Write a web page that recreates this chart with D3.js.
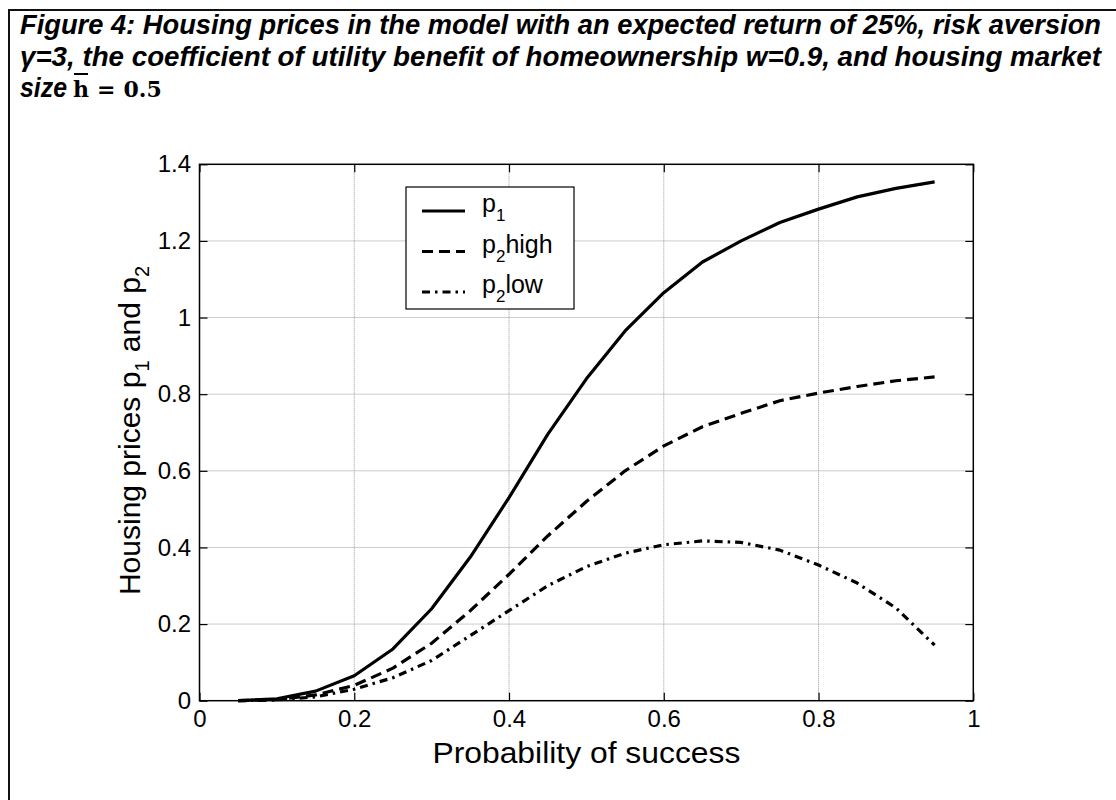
<!DOCTYPE html>
<html>
<head>
<meta charset="utf-8">
<script src="https://cdn.jsdelivr.net/npm/d3@7"></script>
<style>
  body { margin: 0; background: #fff; }
  svg { display: block; }
</style>
</head>
<body>
<svg id="chart" width="1116" height="800"></svg>
<script>
// Probability of success on the horizontal axis
const successProb = [0.05, 0.10, 0.15, 0.20, 0.25, 0.30, 0.35, 0.40, 0.45, 0.50,
                     0.55, 0.60, 0.65, 0.70, 0.75, 0.80, 0.85, 0.90, 0.95];
// Period-1 price
const p1 = [0.000, 0.005, 0.025, 0.065, 0.135, 0.240, 0.375, 0.530, 0.695, 0.840,
            0.965, 1.065, 1.145, 1.200, 1.248, 1.283, 1.315, 1.337, 1.354];
// Period-2 price, high state
const p2High = [0.000, 0.003, 0.015, 0.040, 0.085, 0.150, 0.235, 0.330, 0.430, 0.520,
                0.600, 0.665, 0.715, 0.750, 0.783, 0.803, 0.820, 0.835, 0.845];
// Period-2 price, low state
const p2Low = [0.000, 0.002, 0.010, 0.030, 0.060, 0.105, 0.170, 0.235, 0.300, 0.350,
               0.385, 0.407, 0.417, 0.413, 0.393, 0.354, 0.307, 0.242, 0.145];

const xTicks = [0, 0.2, 0.4, 0.6, 0.8, 1];
const xTickLabels = ["0", "0.2", "0.4", "0.6", "0.8", "1"];
const yTicks = [0, 0.2, 0.4, 0.6, 0.8, 1, 1.2, 1.4];
const yTickLabels = ["0", "0.2", "0.4", "0.6", "0.8", "1", "1.2", "1.4"];

const titleLines = [
  "Figure 4: Housing prices in the model with an expected return of 25%, risk aversion",
  "γ=3, the coefficient of utility benefit of homeownership w=0.9, and housing market"
];

const svg = d3.select("#chart");
const axisFont = "'Liberation Sans', Arial, Helvetica, sans-serif";
const tickSize = 24, legendSize = 25, labelSize = 30;

// Figure frame (runs off the right and bottom edges)
svg.append("rect")
  .attr("x", 9).attr("y", 10)
  .attr("width", 1120).attr("height", 800)
  .attr("fill", "none").attr("stroke", "#111").attr("stroke-width", 2);

// Caption
const title = svg.append("g")
  .attr("font-family", axisFont)
  .attr("font-weight", "bold")
  .attr("font-style", "italic")
  .attr("font-size", 27)
  .attr("fill", "#000");
titleLines.forEach((t, i) => {
  title.append("text")
    .attr("x", 20).attr("y", 34 + i * 32)
    .attr("textLength", 1081)
    .attr("lengthAdjust", "spacingAndGlyphs")
    .text(t);
});
title.append("text")
  .attr("x", 20).attr("y", 97)
  .attr("textLength", 47)
  .attr("lengthAdjust", "spacingAndGlyphs")
  .text("size");
const mathText = svg.append("text")
  .attr("x", 73).attr("y", 97)
  .attr("font-family", "'DejaVu Serif', 'Liberation Serif', serif")
  .attr("font-weight", "bold")
  .attr("font-size", 22)
  .attr("fill", "#000");
mathText.append("tspan").text("h");
mathText.append("tspan").attr("dx", 8).text("=");
mathText.append("tspan").attr("dx", 8).text("0.5");
// bar over h
svg.append("line")
  .attr("x1", 74).attr("x2", 88)
  .attr("y1", 74).attr("y2", 74)
  .attr("stroke", "#000").attr("stroke-width", 2);

// Plot area
const plotLeft = 199.5, plotRight = 973.3, plotTop = 164.3, plotBottom = 700.7;
const x = d3.scaleLinear().domain([0, 1]).range([plotLeft, plotRight]);
const y = d3.scaleLinear().domain([0, 1.4]).range([plotBottom, plotTop]);

const plot = svg.append("g");

// Dotted grid
const grid = plot.append("g").attr("class", "grid");
grid.selectAll("line.gx").data(xTicks.slice(1, -1)).join("line")
  .attr("class", "gx")
  .attr("x1", d => x(d)).attr("x2", d => x(d))
  .attr("y1", plotTop).attr("y2", plotBottom);
grid.selectAll("line.gy").data(yTicks.slice(1, -1)).join("line")
  .attr("class", "gy")
  .attr("y1", d => y(d)).attr("y2", d => y(d))
  .attr("x1", plotLeft).attr("x2", plotRight);
grid.selectAll("line")
  .attr("stroke", "#9a9a9a").attr("stroke-width", 1)
  .attr("stroke-dasharray", "1,1");

// Axes with inward ticks on all four sides
function styleAxis(g) {
  g.select(".domain").remove();
  g.selectAll(".tick line").attr("stroke", "#000").attr("stroke-width", 1.2);
  g.selectAll(".tick text")
    .attr("font-family", axisFont).attr("font-size", tickSize).attr("fill", "#000");
}
const xi = v => xTickLabels[xTicks.indexOf(v)];
const yi = v => yTickLabels[yTicks.indexOf(v)];

plot.append("g")
  .attr("transform", `translate(0,${plotBottom})`)
  .call(d3.axisBottom(x).tickValues(xTicks).tickFormat(xi).tickSizeInner(-8).tickSizeOuter(0).tickPadding(9))
  .call(styleAxis);
plot.append("g")
  .attr("transform", `translate(0,${plotTop})`)
  .call(d3.axisTop(x).tickValues(xTicks).tickFormat("").tickSizeInner(-8).tickSizeOuter(0))
  .call(styleAxis);
plot.append("g")
  .attr("transform", `translate(${plotLeft},0)`)
  .call(d3.axisLeft(y).tickValues(yTicks).tickFormat(yi).tickSizeInner(-8).tickSizeOuter(0).tickPadding(8.5))
  .call(styleAxis);
plot.append("g")
  .attr("transform", `translate(${plotRight},0)`)
  .call(d3.axisRight(y).tickValues(yTicks).tickFormat("").tickSizeInner(-8).tickSizeOuter(0))
  .call(styleAxis);

// Box
plot.append("rect")
  .attr("x", plotLeft).attr("y", plotTop)
  .attr("width", plotRight - plotLeft).attr("height", plotBottom - plotTop)
  .attr("fill", "none").attr("stroke", "#000").attr("stroke-width", 1.5);

// Series
const series = [
  { name: "p1", values: p1, dash: null, base: "p", sub: "1", tail: "" },
  { name: "p2high", values: p2High, dash: "11,6", base: "p", sub: "2", tail: "high" },
  { name: "p2low", values: p2Low, dash: "8,5,2.5,5", base: "p", sub: "2", tail: "low" }
];
const line = d3.line().x(d => x(d[0])).y(d => y(d[1]));
series.forEach(s => {
  plot.append("path")
    .datum(successProb.map((p, i) => [p, s.values[i]]))
    .attr("d", line)
    .attr("fill", "none")
    .attr("stroke", "#000")
    .attr("stroke-width", 3.2)
    .attr("stroke-linejoin", "round")
    .attr("stroke-dasharray", s.dash);
});

// Legend
const legend = svg.append("g");
legend.append("rect")
  .attr("x", 406).attr("y", 187).attr("width", 168).attr("height", 122)
  .attr("fill", "#fff").attr("stroke", "#000").attr("stroke-width", 1.2);
series.forEach((s, i) => {
  const ry = 211 + i * 40.5;
  legend.append("line")
    .attr("x1", 422).attr("x2", 465)
    .attr("y1", ry).attr("y2", ry)
    .attr("stroke", "#000").attr("stroke-width", 3.2)
    .attr("stroke-dasharray", s.dash);
  const t = legend.append("text")
    .attr("x", 482).attr("y", ry + 1)
    .attr("font-family", axisFont).attr("font-size", legendSize).attr("fill", "#000");
  t.append("tspan").text(s.base);
  t.append("tspan").attr("dy", 9).attr("font-size", 17).text(s.sub);
  if (s.tail) t.append("tspan").attr("dy", -9).text(s.tail);
});

// Axis titles
svg.append("text")
  .attr("x", (plotLeft + plotRight) / 2).attr("y", 763)
  .attr("text-anchor", "middle")
  .attr("font-family", axisFont).attr("font-size", labelSize).attr("fill", "#000")
  .attr("textLength", 308)
  .attr("lengthAdjust", "spacingAndGlyphs")
  .text("Probability of success");

const yLab = svg.append("text")
  .attr("transform", `translate(140,${(plotTop + plotBottom) / 2 - 2}) rotate(-90)`)
  .attr("text-anchor", "middle")
  .attr("font-family", axisFont).attr("font-size", labelSize).attr("fill", "#000");
yLab.append("tspan").text("Housing prices p");
yLab.append("tspan").attr("dy", 9).attr("font-size", 20).text("1");
yLab.append("tspan").attr("dy", -9).text(" and p");
yLab.append("tspan").attr("dy", 9).attr("font-size", 20).text("2");
</script>
</body>
</html>
